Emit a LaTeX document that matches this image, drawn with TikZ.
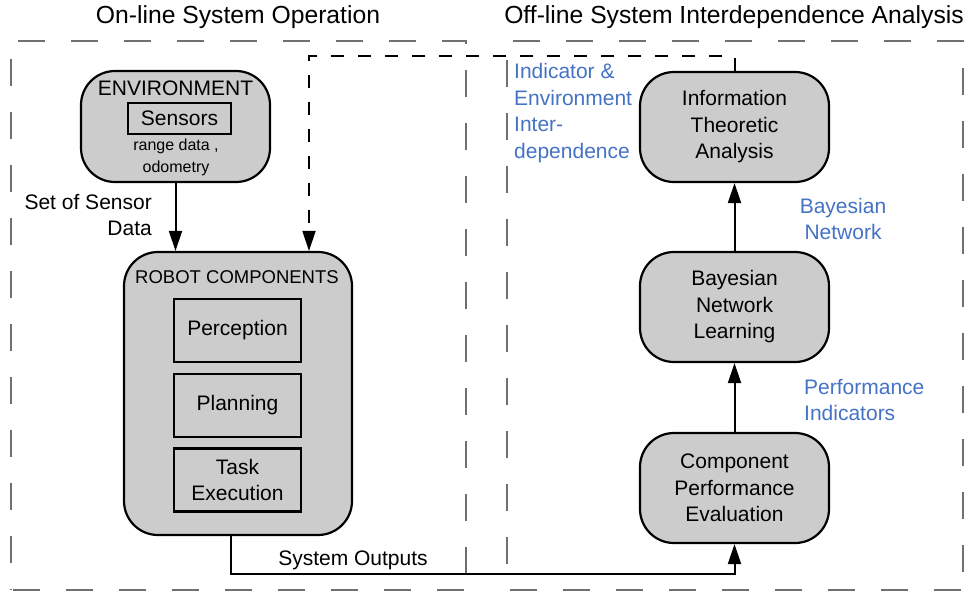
\documentclass[tikz,border=0pt]{standalone}
\usepackage{fontspec}
\setmainfont{Liberation Sans}
\usetikzlibrary{arrows.meta}
\definecolor{boxgray}{RGB}{204,204,204}
\definecolor{dashgray}{RGB}{112,112,112}
\definecolor{lblblue}{RGB}{68,114,196}
\begin{document}
\begin{tikzpicture}[x=1pt,y=-1pt,
  mainfont/.style={font=\fontsize{21}{26.5}\selectfont},
  rbox/.style={draw=black, line width=2.2pt, fill=boxgray, rounded corners=34pt,
    minimum width=189pt, minimum height=110pt, inner sep=0pt, align=center, mainfont},
  ibox/.style={draw=black, line width=2.2pt, fill=boxgray, minimum width=127pt,
    minimum height=63pt, inner sep=0pt, align=center, mainfont},
  lbl/.style={inner sep=0pt, mainfont},
  bluelbl/.style={inner sep=0pt, mainfont, text=lblblue},
  grayframe/.style={draw=dashgray, line width=2.5pt, dash pattern=on 27pt off 26pt},
  fbline/.style={line width=2pt, dash pattern=on 13pt off 14pt},
  tipstyle/.style={-{Triangle[width=13pt,length=20pt]}},
  conn/.style={line width=2pt, tipstyle}]
\useasboundingbox (0,0) rectangle (969,592);

% frames
\draw[grayframe] (18,41) -- (466,41) -- (466,590);
\draw[grayframe] (11,59) -- (11,590);
\draw[grayframe] (13,590) -- (466,590);
\draw[grayframe] (513,41) -- (963,41) -- (963,590);
\draw[grayframe] (507,60) -- (507,590);
\draw[grayframe] (510,590) -- (963,590);

% titles
\node[inner sep=0pt, font=\fontsize{24.7}{30}\selectfont] (t1) at (238,17) {On-line System Operation};
\node[inner sep=0pt, font=\fontsize{24.7}{30}\selectfont] (t2) at (734,17) {Off-line System Interdependence Analysis};

% environment
\node[rbox, minimum width=189pt, minimum height=111pt] (env) at (175.5,126.5) {};
\node[lbl] (envlbl) at (175.5,88) {ENVIRONMENT};
\node[draw=black, line width=2.2pt, minimum width=103pt, minimum height=31pt, inner sep=0pt, mainfont] (sens) at (179.5,118.5) {Sensors};
\node[inner sep=0pt, align=center, font=\fontsize{16}{22}\selectfont] (rd) at (176,157) {range data ,\\odometry};

% robot components
\node[rbox, minimum width=228pt, minimum height=283pt] (robot) at (238,393.5) {};
\node[inner sep=0pt, font=\fontsize{18.5}{22}\selectfont] (robotlbl) at (237,277) {ROBOT COMPONENTS};
\node[ibox] (perc) at (237.5,330.5) {Perception};
\node[ibox] (plan) at (237.5,405.5) {Planning};
\node[ibox] (task) at (237.5,480) {Task\\Execution};

% right column
\node[rbox] (ita) at (734.5,127) {Information\\Theoretic\\Analysis};
\node[rbox] (bnl) at (734.5,307) {Bayesian\\Network\\Learning};
\node[rbox] (cpe) at (734.5,488) {Component\\Performance\\Evaluation};

% labels
\node[lbl, align=right, anchor=east] (ssd) at (152,215) {Set of Sensor\\Data};
\node[bluelbl, align=left, anchor=west] (iei) at (514,113) {Indicator \&\\Environment\\Inter-\\dependence};
\node[bluelbl, align=center] (bn) at (843,219) {Bayesian\\Network};
\node[bluelbl, align=left, anchor=west] (pi) at (804,400) {Performance\\Indicators};
\node[lbl] (sol) at (353,560) {System Outputs};

% connectors
\draw[conn] (env.south) -- (env.south |- robot.north);
\coordinate (fb) at (309,56);
\draw[fbline, tipstyle] (ita.north) |- (fb) -- (fb |- robot.north);
\coordinate (sout) at (231,574);
\draw[conn] (sout |- robot.south) -- (sout) -| (cpe.south);
\draw[conn] (bnl.north) -- (ita.south);
\draw[conn] (cpe.north) -- (bnl.south);
\end{tikzpicture}
\end{document}
